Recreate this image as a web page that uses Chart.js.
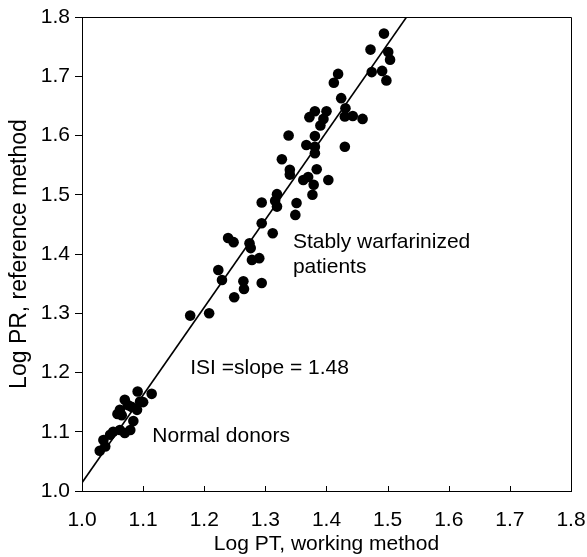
<!DOCTYPE html>
<html>
<head>
<meta charset="utf-8">
<script src="https://cdn.jsdelivr.net/npm/chart.js@4"></script>
<style>
    html, body { margin: 0; padding: 0; background: #fff; }
    #wrap { width: 587px; height: 557px; }
</style>
</head>
<body>
<div id="wrap"><canvas id="isiChart" width="587" height="557"></canvas></div>
<script>
// Log PT (working method) vs Log PR (reference method)
const logPT = [
    1.029, 1.038, 1.035, 1.046, 1.051, 1.062, 1.070, 1.079, 1.084, 1.065,
    1.062, 1.090, 1.081, 1.095, 1.070, 1.091, 1.114, 1.075, 1.058, 1.100,
    1.177, 1.208, 1.249, 1.265, 1.264, 1.294, 1.229, 1.223, 1.278, 1.290,
    1.276, 1.274, 1.239, 1.248, 1.312, 1.294,
    1.294, 1.319, 1.316, 1.319, 1.351, 1.349, 1.377, 1.379, 1.362, 1.370,
    1.403, 1.384, 1.340, 1.340, 1.327, 1.381, 1.381, 1.367, 1.430, 1.338,
    1.381, 1.390, 1.395, 1.372, 1.381, 1.400, 1.430, 1.443, 1.459, 1.431,
    1.424, 1.412, 1.419, 1.474, 1.491, 1.498, 1.504, 1.501, 1.472, 1.494
];
const logPR = [
    1.068, 1.075, 1.086, 1.095, 1.100, 1.103, 1.098, 1.103, 1.118, 1.128,
    1.137, 1.137, 1.142, 1.151, 1.154, 1.168, 1.164, 1.145, 1.130, 1.150,
    1.296, 1.300, 1.327, 1.341, 1.354, 1.351, 1.356, 1.373, 1.390, 1.393,
    1.410, 1.418, 1.427, 1.420, 1.435, 1.452,
    1.487, 1.501, 1.490, 1.480, 1.486, 1.466, 1.500, 1.517, 1.525, 1.530,
    1.525, 1.543, 1.542, 1.534, 1.560, 1.570, 1.581, 1.584, 1.581, 1.600,
    1.599, 1.617, 1.628, 1.631, 1.641, 1.641, 1.632, 1.633, 1.628, 1.646,
    1.663, 1.689, 1.704, 1.707, 1.709, 1.693, 1.728, 1.741, 1.745, 1.772
];

// regression line end points (ISI = slope = 1.48)
const fitX = [1.0, 1.531];
const fitY = [1.014, 1.8];

const tickValues = [1.0, 1.1, 1.2, 1.3, 1.4, 1.5, 1.6, 1.7, 1.8];

const notes = [
    { text: 'Stably warfarinized', x: 1.345, y: 1.42 },
    { text: 'patients', x: 1.345, y: 1.377 },
    { text: 'ISI =slope = 1.48', x: 1.177, y: 1.208 },
    { text: 'Normal donors', x: 1.115, y: 1.093 }
];

const FONT = '"Liberation Sans", Arial, Helvetica, sans-serif';

// frame on top/right, inward x ticks and the text notes
const extrasPlugin = {
    id: 'extras',
    afterDraw(chart) {
        const c = chart.ctx;
        const a = chart.chartArea;
        const xs = chart.scales.x;
        const ys = chart.scales.y;
        c.save();
        c.strokeStyle = '#000';
        c.lineWidth = 1;
        c.beginPath();
        c.moveTo(a.left, a.top + 0.5);
        c.lineTo(a.right + 0.5, a.top + 0.5);
        c.lineTo(a.right + 0.5, a.bottom);
        c.stroke();

        tickValues.forEach(v => {
            const px = Math.round(xs.getPixelForValue(v)) + 0.5;
            c.beginPath();
            c.moveTo(px, a.bottom);
            c.lineTo(px, a.bottom - 5);
            c.stroke();
        });

        c.fillStyle = '#000';
        c.font = '21px ' + FONT;
        c.textBaseline = 'middle';
        c.textAlign = 'left';
        notes.forEach(n => {
            c.fillText(n.text, xs.getPixelForValue(n.x), ys.getPixelForValue(n.y));
        });
        c.restore();
    }
};

const ctx = document.getElementById('isiChart').getContext('2d');
const isiChart = new Chart(ctx, {
    type: 'scatter',
    data: {
        datasets: [{
            label: 'Samples',
            data: logPT.map((x, i) => ({ x: x, y: logPR[i] })),
            backgroundColor: '#000',
            borderColor: '#000',
            borderWidth: 0,
            pointRadius: 5.3,
            pointHoverRadius: 5.3
        }, {
            type: 'line',
            label: 'Fit',
            data: fitX.map((x, i) => ({ x: x, y: fitY[i] })),
            borderColor: '#000',
            borderWidth: 1.6,
            pointRadius: 0,
            fill: false
        }]
    },
    options: {
        responsive: false,
        animation: false,
        events: [],
        layout: { padding: { top: 17, right: 16, left: 0, bottom: 0 } },
        plugins: {
            legend: { display: false },
            tooltip: { enabled: false }
        },
        scales: {
            x: {
                type: 'linear',
                min: 1.0,
                max: 1.8,
                afterFit: s => {
                    s.height = 66;
                    s.paddingLeft = 0;
                    s.paddingRight = 0;
                },
                afterBuildTicks: s => { s.ticks = tickValues.map(v => ({ value: v })); },
                border: { color: '#000', width: 1 },
                grid: { drawOnChartArea: false, drawTicks: false },
                ticks: {
                    color: '#000',
                    font: { family: FONT, size: 21 },
                    padding: 17,
                    maxRotation: 0,
                    callback: v => v.toFixed(1)
                },
                title: {
                    display: true,
                    text: 'Log PT, working method',
                    color: '#000',
                    font: { family: FONT, size: 21 },
                    padding: { top: 0, bottom: 0 }
                }
            },
            y: {
                type: 'linear',
                min: 1.0,
                max: 1.8,
                afterFit: s => {
                    s.width = 82;
                    s.paddingTop = 0;
                    s.paddingBottom = 0;
                },
                afterBuildTicks: s => { s.ticks = tickValues.map(v => ({ value: v })); },
                border: { color: '#000', width: 1 },
                grid: { drawOnChartArea: false, tickLength: 7, color: '#000' },
                ticks: {
                    color: '#000',
                    font: { family: FONT, size: 21 },
                    padding: 5,
                    callback: v => v.toFixed(1)
                },
                title: {
                    display: true,
                    text: 'Log PR, reference method',
                    color: '#000',
                    font: { family: FONT, size: 23 },
                    padding: { top: 6, bottom: 0 }
                }
            }
        }
    },
    plugins: [extrasPlugin]
});
</script>
</body>
</html>
